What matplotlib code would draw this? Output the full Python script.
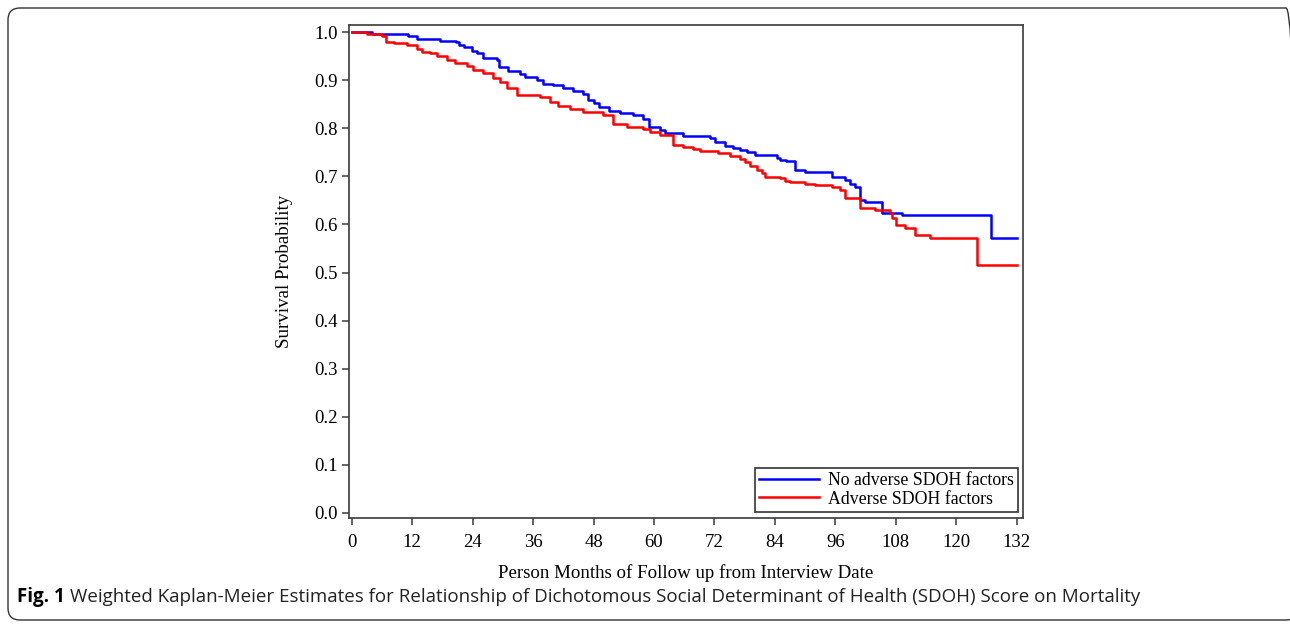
import matplotlib
matplotlib.use("Agg")
from matplotlib import pyplot as plt
from matplotlib.patches import FancyBboxPatch

# survival estimates (months, probability)
t_no_adverse = [0, 4, 11.2, 12.9, 17.5, 20.8, 21.2, 22.3, 23.8, 24.8, 26.1, 28.8, 29.3,
                31.1, 33.4, 34.4, 36.7, 38, 40, 42, 44, 46, 47, 48, 49, 51, 53.3, 55.9,
                57.9, 59.1, 61.2, 62.2, 65.8, 71.1, 72.1, 74.1, 75.7, 77.1, 78.4, 80.1,
                84.4, 85, 86.3, 88, 90, 95.3, 97.9, 98.9, 99.9, 100.9, 101.9, 105.2,
                109.2, 127, 132]
s_no_adverse = [1.0, .996, .9925, .985, .982, .979, .973, .968, .961, .956, .947, .942, .928,
                .919, .913, .906, .900, .893, .890, .883, .878, .872, .858, .852, .845, .836,
                .831, .827, .820, .802, .796, .790, .784, .779, .772, .763, .759, .7545, .751,
                .744, .739, .735, .732, .714, .709, .699, .692, .685, .677, .6505, .647, .624,
                .619, .571, .571]

t_adverse = [0, 3, 6, 6.9, 8.3, 10.9, 12.9, 13.9, 15.5, 16.9, 18.9, 20.5, 22.8, 24.1, 26.1,
             28.1, 29.4, 30.8, 32.8, 37.4, 39.4, 41, 43.3, 46, 49.9, 51.9, 54.6, 57.9, 59.2,
             61.2, 63.8, 65.8, 67.8, 69.1, 72.8, 75.1, 77.1, 78.1, 79.1, 80.4, 81.4, 82, 85,
             86, 87, 90, 92, 95.3, 96.9, 97.9, 100.9, 103.9, 106.8, 107.2, 108.1, 109.9,
             111.9, 114.8, 124.1, 132]
s_adverse = [1.0, .997, .992, .980, .978, .973, .964, .959, .956, .950, .942, .936, .929, .922,
             .914, .904, .897, .883, .869, .864, .855, .846, .841, .834, .827, .809, .803, .798,
             .793, .786, .765, .760, .756, .753, .748, .743, .737, .730, .721, .713, .707, .699,
             .696, .691, .689, .685, .682, .677, .671, .654, .635, .631, .624, .614, .598, .592,
             .578, .571, .515, .515]

x_ticks = list(range(0, 133, 12))
y_ticks = [0.0, 0.1, 0.2, 0.3, 0.4, 0.5, 0.6, 0.7, 0.8, 0.9, 1.0]

serif = "Liberation Serif"
edge = "#3a3a3a"

fig = plt.figure(figsize=(12.9, 6.26), dpi=100)
ax = fig.add_axes([0.2703, 0.173, 0.5225, 0.787])

ax.step(t_no_adverse, s_no_adverse, where="post", color="#0000ff", lw=1.8,
        label="No adverse SDOH factors")
ax.step(t_adverse, s_adverse, where="post", color="#ff0000", lw=1.8,
        label="Adverse SDOH factors")

ax.set_xlim(-0.6, 133.2)
ax.set_ylim(-0.0098, 1.0146)
ax.set_xticks(x_ticks)
ax.set_yticks(y_ticks)
ax.set_yticklabels(["%.1f" % v for v in y_ticks])

for sp in ax.spines.values():
    sp.set_color(edge)
    sp.set_linewidth(1.2)
ax.tick_params(direction="out", length=5, width=1.1, color=edge, labelsize=13.5)
ax.tick_params(axis="x", pad=7)
ax.tick_params(axis="y", pad=3)
for lab in ax.get_xticklabels() + ax.get_yticklabels():
    lab.set_fontfamily(serif)

ax.set_xlabel("Person Months of Follow up from Interview Date", fontsize=13.6,
              fontfamily=serif, labelpad=9)
ax.set_ylabel("Survival Probability", fontsize=13.7, fontfamily=serif, labelpad=15)

leg = ax.legend(loc="lower right", bbox_to_anchor=(0.9925, 0.0125), frameon=True,
                fancybox=False, prop={"family": serif, "size": 12.8},
                handlelength=3.4, handletextpad=0.5, borderpad=0.22,
                labelspacing=0.1, borderaxespad=0)
leg.get_frame().set_edgecolor("black")
leg.get_frame().set_linewidth(1.2)

# rounded frame round the whole figure
frame = FancyBboxPatch((0.08, 0.06), 12.9, 6.12,
                       boxstyle="round,pad=0,rounding_size=0.12",
                       transform=fig.dpi_scale_trans, fill=False,
                       edgecolor="#333333", lw=1.0, clip_on=False)
fig.patches.append(frame)

# caption
cap_font = "Open Sans"
fig_lbl = fig.text(17 / 1290, 1 - 597 / 626, "Fig. 1", fontsize=13.5, fontweight="bold",
                   fontfamily=cap_font, va="center", ha="left")
fig.canvas.draw()
bb = fig_lbl.get_window_extent()
fig.text((bb.x1 + 5) / fig.bbox.width, 1 - 597 / 626,
         "Weighted Kaplan-Meier Estimates for Relationship of Dichotomous Social "
         "Determinant of Health (SDOH) Score on Mortality",
         fontsize=13.5, fontfamily=cap_font, va="center", ha="left", color="#222222")

fig.savefig("out.png", dpi=100)
